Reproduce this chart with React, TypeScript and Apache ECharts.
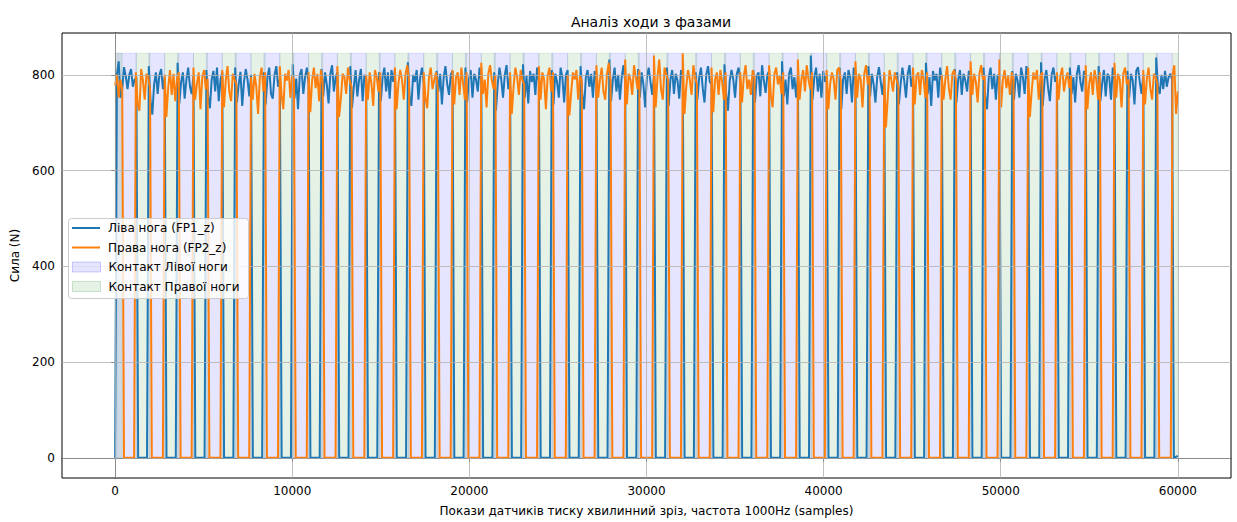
import React, { useEffect, useRef } from "react";
import * as echarts from "echarts";

// ---------------- data ----------------
const chartTitle = "Аналіз ходи з фазами";
const xAxisName = "Покази датчиків тиску хвилинний зріз, частота 1000Hz (samples)";
const yAxisName = "Сила (N)";
const leftName = "Ліва нога (FP1_z)";
const rightName = "Права нога (FP2_z)";
const leftContactName = "Контакт Лівої ноги";
const rightContactName = "Контакт Правої ноги";

const xTicks = [0, 10000, 20000, 30000, 40000, 50000, 60000];
const yTicks = [0, 200, 400, 600, 800];
const sampleStep = 100; // samples between recorded points inside a stance
const recordEnd = 60000;

// left foot: touchdown sample and force values during stance (every 100 samples)
const leftTouchdown = [
  100, 1900, 3525, 5150, 6775, 8400, 10025, 11650, 13275, 14900, 16525, 18150, 19775,
  21400, 23025, 24650, 26275, 27900, 29525, 31150, 32775, 34400, 36025, 37650, 39275,
  40900, 42525, 44150, 45775, 47400, 49025, 50650, 52275, 53900, 55525, 57150, 58775,
];
const leftStance = [
  [800, 828, 752, 770, 816, 797, 770, 800, 812, 775, 790, 795],
  [818, 745, 717, 780, 805, 760, 800, 812, 770, 795],
  [825, 740, 785, 805, 750, 790, 815, 775, 760, 800],
  [810, 755, 730, 790, 808, 765, 815, 745, 790, 805],
  [815, 742, 780, 806, 735, 785, 812, 790, 755, 800],
  [805, 738, 795, 815, 760, 750, 800, 818, 775, 790],
  [822, 750, 792, 728, 800, 812, 760, 795, 815, 780],
  [812, 755, 805, 780, 740, 802, 820, 765, 795, 805],
  [818, 730, 775, 810, 755, 790, 812, 745, 800, 790],
  [805, 745, 795, 815, 765, 805, 750, 810, 785, 812],
  [826, 755, 735, 800, 785, 810, 748, 795, 815, 780],
  [808, 765, 802, 738, 795, 818, 780, 758, 800, 808],
  [815, 742, 790, 810, 752, 802, 790, 765, 815, 785],
  [805, 725, 780, 815, 790, 752, 800, 820, 770, 795],
  [822, 752, 798, 740, 808, 785, 802, 758, 815, 785],
  [810, 738, 802, 785, 752, 815, 795, 742, 800, 810],
  [818, 760, 728, 795, 810, 775, 802, 752, 808, 790],
  [832, 745, 790, 815, 765, 800, 748, 795, 820, 785],
  [812, 752, 805, 780, 732, 795, 815, 785, 758, 800],
  [815, 735, 790, 810, 760, 802, 788, 750, 810, 795],
  [805, 748, 795, 815, 772, 742, 800, 818, 785, 780],
  [822, 760, 725, 788, 810, 790, 752, 802, 815, 785],
  [810, 742, 798, 805, 755, 820, 788, 762, 800, 808],
  [828, 755, 790, 738, 802, 815, 770, 795, 752, 800],
  [840, 748, 795, 815, 765, 802, 752, 808, 785, 800],
  [815, 728, 790, 805, 760, 810, 795, 742, 815, 788],
  [818, 755, 802, 780, 742, 795, 816, 785, 758, 800],
  [805, 738, 782, 815, 788, 752, 802, 820, 775, 795],
  [825, 760, 795, 735, 808, 788, 802, 752, 815, 788],
  [812, 742, 790, 810, 758, 802, 788, 765, 808, 800],
  [815, 755, 728, 795, 815, 770, 802, 748, 800, 795],
  [808, 748, 802, 788, 752, 815, 795, 760, 818, 788],
  [826, 735, 790, 810, 772, 745, 800, 815, 785, 800],
  [815, 760, 795, 742, 802, 820, 785, 765, 808, 795],
  [818, 745, 782, 810, 755, 802, 795, 748, 815, 788],
  [808, 752, 802, 788, 738, 808, 816, 785, 760, 800],
  [836, 776, 760, 800, 770, 808, 775, 795, 802, 790],
];
const leftLastValue = 4;

// right foot
const rightTouchdown = [
  0, 1170, 2795, 4420, 6045, 7670, 9295, 10920, 12545, 14170, 15795, 17420, 19045,
  20670, 22295, 23920, 25545, 27170, 28795, 30420, 32045, 33670, 35295, 36920, 38545,
  40170, 41795, 43420, 45045, 46670, 48295, 49920, 51545, 53170, 54795, 56420, 58045, 59700,
];
const rightStance = [
  [778, 800, 752, 790, 770],
  [805, 740, 725, 812, 788, 748, 802, 795, 770],
  [800, 712, 772, 810, 758, 802, 745, 792, 805],
  [815, 748, 782, 805, 728, 795, 810, 770, 792],
  [810, 732, 788, 818, 765, 745, 802, 790, 780],
  [795, 748, 802, 775, 718, 795, 815, 765, 805],
  [818, 758, 728, 802, 788, 810, 752, 798, 790],
  [805, 722, 788, 815, 772, 802, 745, 810, 782],
  [818, 712, 750, 802, 795, 760, 815, 788, 775],
  [800, 748, 805, 782, 735, 810, 795, 765, 805],
  [815, 728, 782, 810, 790, 748, 802, 820, 788],
  [805, 752, 730, 795, 815, 770, 790, 805, 768],
  [810, 738, 795, 805, 758, 815, 782, 748, 805],
  [825, 760, 790, 732, 802, 820, 788, 770, 798],
  [805, 718, 775, 815, 795, 758, 810, 788, 780],
  [818, 748, 805, 790, 728, 798, 815, 765, 805],
  [800, 715, 762, 805, 790, 810, 748, 798, 788],
  [820, 752, 790, 815, 765, 748, 802, 825, 788],
  [832, 738, 802, 790, 758, 820, 795, 770, 810],
  [840, 732, 795, 832, 770, 748, 815, 800, 788],
  [845, 718, 775, 810, 790, 758, 820, 795, 780],
  [815, 722, 790, 805, 758, 810, 785, 748, 805],
  [805, 742, 798, 820, 770, 790, 758, 810, 795],
  [820, 758, 732, 802, 815, 780, 798, 760, 805],
  [832, 748, 790, 810, 765, 820, 790, 770, 805],
  [810, 728, 782, 805, 790, 748, 810, 815, 788],
  [828, 752, 802, 790, 732, 802, 820, 780, 798],
  [805, 690, 752, 810, 790, 765, 805, 790, 775],
  [815, 738, 798, 805, 758, 810, 790, 752, 805],
  [800, 748, 790, 818, 772, 748, 802, 810, 788],
  [828, 758, 802, 785, 742, 802, 820, 790, 798],
  [832, 732, 790, 810, 772, 798, 758, 805, 790],
  [815, 712, 765, 805, 790, 810, 748, 798, 805],
  [805, 748, 798, 815, 765, 790, 805, 772, 798],
  [820, 728, 782, 805, 758, 810, 790, 748, 805],
  [825, 752, 802, 790, 732, 802, 815, 780, 790],
  [810, 738, 790, 815, 772, 748, 802, 795, 780],
  [800, 820, 718, 765],
];

// ---------------- helpers ----------------
type Pt = [number, number];

function buildFoot(td: number[], stance: number[][], lastValue: number | null) {
  const pts: Pt[] = [];
  const contacts: [number, number][] = [];
  if (td[0] > 0) pts.push([0, 0]);
  td.forEach((t, i) => {
    const vals = stance[i];
    const prevX = pts.length ? pts[pts.length - 1][0] : -Infinity;
    if (t > 0 && t - sampleStep > prevX) pts.push([t - sampleStep, 0]);
    vals.forEach((v, j) => pts.push([t + j * sampleStep, v]));
    const lo = t + (vals.length - 1) * sampleStep;
    contacts.push([t, lo]);
    if (lo + sampleStep <= recordEnd) pts.push([lo + sampleStep, 0]);
  });
  if (lastValue !== null && pts[pts.length - 1][0] < recordEnd) pts.push([recordEnd, lastValue]);
  return { pts, contacts };
}

const FONT = "DejaVu Sans";
const BLUE = "#1f77b4";
const ORANGE = "#ff7f0e";
const LEFT_FILL = "rgba(0,0,255,0.1)";
const RIGHT_FILL = "rgba(0,128,0,0.1)";

export default function App() {
  const ref = useRef<HTMLDivElement>(null);
  useEffect(() => {
    if (!ref.current) return;
    const chart = echarts.init(ref.current, undefined, { renderer: "svg" });
    const left = buildFoot(leftTouchdown, leftStance, leftLastValue);
    const right = buildFoot(rightTouchdown, rightStance, null);
    const all = [...left.pts, ...right.pts].map((p) => p[1]);
    const maxF = Math.max(...all);
    const minF = Math.min(...all);
    const yPad = (maxF - minF) * 0.05;
    const xPad = recordEnd * 0.05;

    const shade = (name: string, contacts: [number, number][], color: string) => ({
      name,
      type: "custom",
      z: 1,
      silent: true,
      itemStyle: { color, borderColor: color },
      encode: { x: [0, 1], y: 2 },
      data: contacts.map((c) => [c[0], c[1], maxF]),
      renderItem: (_p: any, api: any) => {
        const a = api.coord([api.value(0), api.value(2)]);
        const b = api.coord([api.value(1), 0]);
        return {
          type: "rect",
          shape: { x: a[0], y: a[1], width: b[0] - a[0], height: b[1] - a[1] },
          style: { fill: color, stroke: color, lineWidth: 1 },
        };
      },
    });

    const legendText = {
      fontFamily: FONT,
      fontSize: 12,
      color: "#000",
      lineHeight: 12,
      padding: [0, 0, 0, 3],
    };

    const gridColor = "#b0b0b0";
    chart.setOption({
      animation: false,
      title: {
        text: chartTitle,
        left: 646,
        top: 10,
        textAlign: "center",
        textStyle: { fontFamily: FONT, fontSize: 14, fontWeight: "normal", color: "#000" },
      },
      grid: {
        left: 62,
        top: 33,
        width: 1169,
        height: 450,
        show: true,
        borderColor: "#000",
        borderWidth: 1,
        backgroundColor: "transparent",
      },
      graphic: [
        {
          type: "rect",
          left: 68,
          top: 218,
          z: 10,
          silent: true,
          shape: { width: 180, height: 80, r: 3 },
          style: { fill: "rgba(255,255,255,0.8)", stroke: "#cccccc", lineWidth: 1 },
        },
      ],
      legend: [
        {
          orient: "vertical",
          left: 72,
          top: 222,
          z: 12,
          padding: 0,
          itemGap: 7.5,
          itemWidth: 28,
          itemHeight: 2,
          selectedMode: false,
          textStyle: legendText,
          data: [
            { name: leftName, icon: "rect", itemStyle: { color: BLUE } },
            { name: rightName, icon: "rect", itemStyle: { color: ORANGE } },
          ],
        },
        {
          orient: "vertical",
          left: 72,
          top: 261,
          z: 12,
          padding: 0,
          itemGap: 7.5,
          itemWidth: 28,
          itemHeight: 10,
          selectedMode: false,
          textStyle: legendText,
          data: [
            { name: leftContactName, icon: "rect", itemStyle: { color: LEFT_FILL, borderColor: "rgba(0,0,255,0.18)", borderWidth: 1 } },
            { name: rightContactName, icon: "rect", itemStyle: { color: RIGHT_FILL, borderColor: "rgba(0,128,0,0.18)", borderWidth: 1 } },
          ],
        },
      ],
      xAxis: {
        type: "value",
        min: -xPad,
        max: recordEnd + xPad,
        name: xAxisName,
        nameLocation: "middle",
        nameGap: 27,
        nameTextStyle: { fontFamily: FONT, fontSize: 12, color: "#000" },
        axisLine: { show: true, lineStyle: { color: "#000", width: 1 } },
        axisTick: { show: true, length: 4, customValues: xTicks, lineStyle: { color: "#000" } },
        axisLabel: {
          customValues: xTicks,
          margin: 7,
          fontFamily: FONT,
          fontSize: 12,
          color: "#000",
          formatter: (v: number) => String(v),
        },
        splitLine: { show: false },
      },
      yAxis: {
        type: "value",
        min: minF - yPad,
        max: maxF + yPad,
        name: yAxisName,
        nameLocation: "middle",
        nameGap: 35,
        nameTextStyle: { fontFamily: FONT, fontSize: 12, color: "#000" },
        axisLine: { show: true, lineStyle: { color: "#000", width: 1 } },
        axisTick: { show: true, length: 4, customValues: yTicks, lineStyle: { color: "#000" } },
        axisLabel: {
          customValues: yTicks,
          margin: 7,
          fontFamily: FONT,
          fontSize: 12,
          color: "#000",
          formatter: (v: number) => String(v),
        },
        splitLine: { show: false },
      },
      series: [
        shade(leftContactName, left.contacts, LEFT_FILL),
        shade(rightContactName, right.contacts, RIGHT_FILL),
        {
          name: "grid",
          type: "line",
          z: 2,
          data: [],
          silent: true,
          markLine: {
            silent: true,
            symbol: "none",
            label: { show: false },
            lineStyle: { color: gridColor, width: 0.8, type: "solid" },
            data: [
              ...xTicks.map((v) => ({ xAxis: v })),
              ...yTicks.map((v) => ({ yAxis: v })),
            ],
          },
        },
        {
          name: leftName,
          type: "line",
          z: 3,
          showSymbol: false,
          symbol: "none",
          color: BLUE,
          lineStyle: { color: BLUE, width: 2 },
          data: left.pts,
        },
        {
          name: rightName,
          type: "line",
          z: 4,
          showSymbol: false,
          symbol: "none",
          color: ORANGE,
          lineStyle: { color: ORANGE, width: 2 },
          data: right.pts,
        },
      ],
    });
    return () => chart.dispose();
  }, []);
  return (
    <div
      ref={ref}
      style={{ position: "fixed", left: 0, top: 0, width: 1237, height: 522, background: "#fff" }}
    />
  );
}
